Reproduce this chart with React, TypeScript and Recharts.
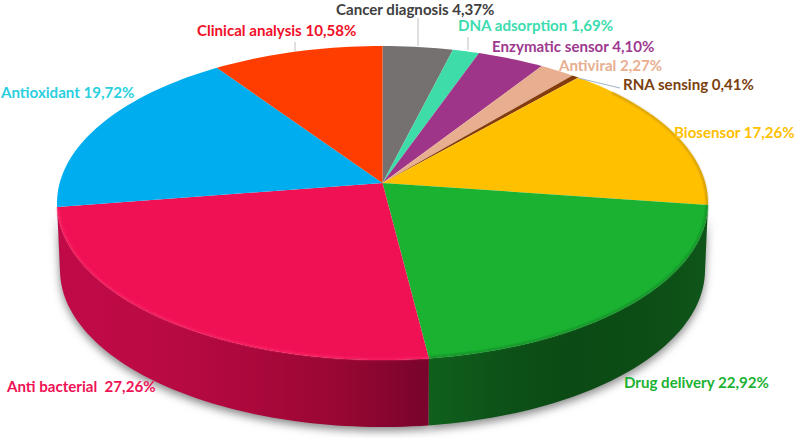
import React from 'react';
import { PieChart, Pie, Cell } from 'recharts';

// printed labels
const categories = [
  'Cancer diagnosis',
  'DNA adsorption',
  'Enzymatic sensor',
  'Antiviral',
  'RNA sensing',
  'Biosensor',
  'Drug delivery',
  'Anti bacterial ',
  'Antioxidant',
  'Clinical analysis',
];
const printedPercents = ['4,37%', '1,69%', '4,10%', '2,27%', '0,41%', '17,26%', '22,92%', '27,26%', '19,72%', '10,58%'];
// size of each slice as drawn in the picture (degrees round the rim), the printed numbers do not add up to 100
const drawnShares = [12.5, 4.75, 12.05, 6.4, 1.3, 53.7, 81.1, 96.7, 60.9, 30.6];

const sliceColors = ['#767171', '#3ddca8', '#9e3588', '#e8ae90', '#843c0c', '#ffc000', '#1bb232', '#f01155', '#00aeef', '#ff3d00'];
const labelColors = ['#404040', '#3ddcb0', '#9e3a8f', '#e8ae90', '#7b3f10', '#ffc000', '#1bb232', '#f01155', '#2ccfe0', '#f01028'];

const chartData = categories.map((name, i) => ({ name, value: drawnShares[i] }));

// label anchors: x, baseline y, and an optional leader line
const labelPlaces: { x: number; y: number; line?: number[] }[] = [
  { x: 336, y: 15, line: [418, 18, 418, 46] },
  { x: 458, y: 31, line: [468, 37, 468, 50] },
  { x: 492, y: 52 },
  { x: 559, y: 71 },
  { x: 623, y: 90, line: [578, 78, 620, 88] },
  { x: 674, y: 138 },
  { x: 624, y: 388 },
  { x: 7, y: 392 },
  { x: 1, y: 98 },
  { x: 197, y: 36, line: [295, 42, 295, 52] },
];

const CX = 382.5;
const CY = 203;
const RX = 325.5;
const RY = 157;
const APEX_UP = 20;
const DEPTH = 67;
const BOTTOM_RX = 322.5;

const wallStops: Record<string, string[]> = {
  'Drug delivery': ['#10601c', '#0d5218', '#0b4a14', '#0c4c15', '#0f5519'],
  'Anti bacterial ': ['#c00a48', '#bb0a44', '#ad083d', '#990733', '#78042c'],
  Biosensor: ['#8a6a00', '#8a6a00'],
  Antioxidant: ['#00688f', '#00688f'],
};
const rimColors: Record<string, string> = {
  'Drug delivery': '#137f24',
  'Anti bacterial ': '#f92a68',
  Biosensor: '#8c6b10',
};

const ellipsePoints = (from: number, to: number, cx: number, cy: number, rx: number, ry: number) => {
  const pts: string[] = [];
  const steps = Math.max(2, Math.ceil(Math.abs(to - from) / 1.5));
  for (let s = 0; s <= steps; s++) {
    const t = ((from + ((to - from) * s) / steps) * Math.PI) / 180;
    pts.push(`${(cx + rx * Math.sin(t)).toFixed(2)} ${(cy - ry * Math.cos(t)).toFixed(2)}`);
  }
  return pts;
};

// front part of a slice, in clockwise degrees from the top
const frontRange = (props: any) => {
  const a = Math.max(90 - props.startAngle, 90);
  const b = Math.min(90 - props.endAngle, 270);
  return b > a ? [a, b] : null;
};

const wallOutline = (a: number, b: number, cx: number, cy: number) => {
  const top = ellipsePoints(a, b, cx, cy, RX, RY);
  const bottom = ellipsePoints(b, a, cx, cy + DEPTH, BOTTOM_RX, RY);
  return `M${top.join(' L')} L${bottom.join(' L')} Z`;
};

const ShadowShape = (props: any) => {
  const range = frontRange(props);
  if (!range) return null;
  return <path d={wallOutline(range[0], range[1], props.cx, props.cy + 4)} fill="#8a8a8a" filter="url(#softShadow)" />;
};

const WallShape = (props: any) => {
  const range = frontRange(props);
  if (!range) return null;
  const stops = wallStops[props.name] || ['#444444', '#444444'];
  const id = `wall-${props.index}`;
  return (
    <g>
      <defs>
        <linearGradient id={id} x1="0" y1="0" x2="1" y2="0">
          {stops.map((c, i) => (
            <stop key={i} offset={i / (stops.length - 1)} stopColor={c} />
          ))}
        </linearGradient>
      </defs>
      <path d={wallOutline(range[0], range[1], props.cx, props.cy)} fill={`url(#${id})`} />
    </g>
  );
};

const TopShape = (props: any) => {
  const a = 90 - props.startAngle;
  const b = 90 - props.endAngle;
  const rim = rimColors[props.name];
  const d = `M${props.cx} ${props.cy - APEX_UP} L${ellipsePoints(a, b, props.cx, props.cy, RX, RY).join(' L')} Z`;
  // rim line only where the slice has a lit or dark edge
  const rimFrom = props.name === 'Biosensor' ? Math.max(a, 45) : a;
  return (
    <g>
      <path d={d} fill={props.fill} />
      {rim && (
        <path
          d={`M${ellipsePoints(rimFrom, b, props.cx, props.cy, RX - 1, RY - 1).join(' L')}`}
          fill="none"
          stroke={rim}
          strokeWidth={props.name === 'Biosensor' ? 1 : 1.5}
          filter="url(#softRim)"
        />
      )}
    </g>
  );
};

const renderLabel = (props: any) => {
  const i = props.index;
  const place = labelPlaces[i];
  return (
    <g key={i}>
      {place.line && (
        <line
          x1={place.line[0]}
          y1={place.line[1]}
          x2={place.line[2]}
          y2={place.line[3]}
          stroke={i === 4 ? '#9fb4c4' : '#bfbfbf'}
          strokeWidth={1}
        />
      )}
      <text
        x={place.x}
        y={place.y}
        fill={labelColors[i]}
        fontFamily="Lato, sans-serif"
        fontWeight={700}
        fontSize={15.1}
        textAnchor="start"
        style={{ whiteSpace: 'pre' }}
      >
        {categories[i]} {printedPercents[i]}
      </text>
    </g>
  );
};

const App = () => {
  return (
    <div style={{ position: 'absolute', left: 0, top: 0, width: 796, height: 438, background: '#fff' }}>
      <PieChart width={796} height={438} margin={{ top: 0, right: 0, bottom: 0, left: 0 }}>
        <defs>
          <filter id="softShadow" x="-10%" y="-10%" width="120%" height="130%">
            <feGaussianBlur stdDeviation="4" />
          </filter>
          <filter id="softRim" x="-10%" y="-10%" width="120%" height="120%">
            <feGaussianBlur stdDeviation="0.8" />
          </filter>
        </defs>
        <Pie
          data={chartData}
          dataKey="value"
          cx={CX}
          cy={CY}
          outerRadius={RX}
          startAngle={90}
          endAngle={-270}
          stroke="none"
          shape={ShadowShape}
          isAnimationActive={false}
        />
        <Pie
          data={chartData}
          dataKey="value"
          cx={CX}
          cy={CY}
          outerRadius={RX}
          startAngle={90}
          endAngle={-270}
          stroke="none"
          shape={WallShape}
          isAnimationActive={false}
        />
        <Pie
          data={chartData}
          dataKey="value"
          cx={CX}
          cy={CY}
          outerRadius={RX}
          startAngle={90}
          endAngle={-270}
          stroke="none"
          shape={TopShape}
          label={renderLabel}
          labelLine={false}
          isAnimationActive={false}
        >
          {chartData.map((d, i) => (
            <Cell key={d.name} fill={sliceColors[i]} />
          ))}
        </Pie>
      </PieChart>
    </div>
  );
};

export default App;
